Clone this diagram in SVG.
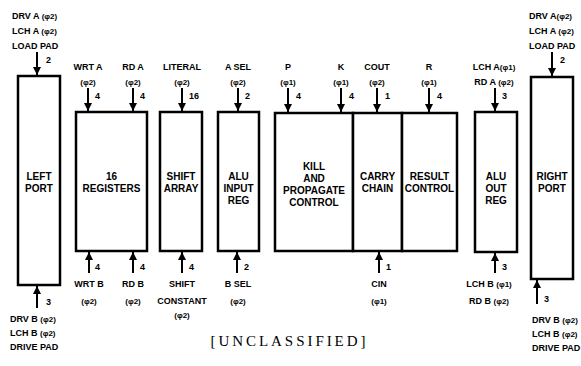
<svg xmlns="http://www.w3.org/2000/svg" width="581" height="366" viewBox="0 0 581 366">
<style>
text{font-family:"Liberation Sans",Arial,sans-serif;font-weight:bold;fill:#000}
.l{font-size:9px}
.p{font-size:8px}
.b{font-size:10px;text-anchor:middle}
.c{text-anchor:middle}
.box{fill:#fff;stroke:#000;stroke-width:2.5}
.w{stroke:#000;stroke-width:2;fill:none}
.u{font-family:"Liberation Serif","Times New Roman",serif;font-weight:normal;font-size:15px;text-anchor:middle}
</style>
<defs>
<marker id="ah" viewBox="0 0 10 10" refX="10" refY="5" markerWidth="4" markerHeight="4" orient="auto" markerUnits="strokeWidth">
<path d="M0,0 L10,5 L0,10 z" fill="#000"/>
</marker>
</defs>
<rect width="581" height="366" fill="#fff"/>

<g id="left-port">
<rect class="box" x="18" y="76" width="42" height="209"/>
<text class="b" x="39" y="180">LEFT</text>
<text class="b" x="39" y="192">PORT</text>
</g>
<g id="registers">
<rect class="box" x="76" y="112" width="71" height="139"/>
<text class="b" x="111.5" y="180">16</text>
<text class="b" x="111.5" y="192">REGISTERS</text>
</g>
<g id="shift-array">
<rect class="box" x="160" y="112" width="42" height="139"/>
<text class="b" x="181" y="180">SHIFT</text>
<text class="b" x="181" y="192">ARRAY</text>
</g>
<g id="alu-input-reg">
<rect class="box" x="218" y="112" width="41" height="139"/>
<text class="b" x="238.5" y="180">ALU</text>
<text class="b" x="238.5" y="192">INPUT</text>
<text class="b" x="238.5" y="204">REG</text>
</g>
<g id="kill-propagate">
<rect class="box" x="275" y="113" width="78" height="138"/>
<text class="b" x="314" y="170">KILL</text>
<text class="b" x="314" y="182">AND</text>
<text class="b" x="314" y="194">PROPAGATE</text>
<text class="b" x="314" y="206">CONTROL</text>
</g>
<g id="carry-chain">
<rect class="box" x="353" y="113" width="49" height="138"/>
<text class="b" x="377.5" y="180">CARRY</text>
<text class="b" x="377.5" y="192">CHAIN</text>
</g>
<g id="result-control">
<rect class="box" x="402" y="113" width="55" height="138"/>
<text class="b" x="429.5" y="180">RESULT</text>
<text class="b" x="429.5" y="192">CONTROL</text>
</g>
<g id="alu-out-reg">
<rect class="box" x="475" y="112" width="42" height="140"/>
<text class="b" x="496" y="180">ALU</text>
<text class="b" x="496" y="192">OUT</text>
<text class="b" x="496" y="204">REG</text>
</g>
<g id="right-port">
<rect class="box" x="531" y="77" width="42" height="202"/>
<text class="b" x="552" y="180">RIGHT</text>
<text class="b" x="552" y="192">PORT</text>
</g>

<g id="connectors">
<line class="w" x1="37" y1="52" x2="37" y2="75" marker-end="url(#ah)"/>
<line class="w" x1="88" y1="88" x2="88" y2="111" marker-end="url(#ah)"/>
<line class="w" x1="133" y1="88" x2="133" y2="111" marker-end="url(#ah)"/>
<line class="w" x1="182" y1="88" x2="182" y2="111" marker-end="url(#ah)"/>
<line class="w" x1="238" y1="88" x2="238" y2="111" marker-end="url(#ah)"/>
<line class="w" x1="288" y1="88" x2="288" y2="112" marker-end="url(#ah)"/>
<line class="w" x1="341" y1="88" x2="341" y2="112" marker-end="url(#ah)"/>
<line class="w" x1="377" y1="88" x2="377" y2="112" marker-end="url(#ah)"/>
<line class="w" x1="429" y1="88" x2="429" y2="112" marker-end="url(#ah)"/>
<line class="w" x1="495" y1="88" x2="495" y2="111" marker-end="url(#ah)"/>
<line class="w" x1="552" y1="52" x2="552" y2="76" marker-end="url(#ah)"/>

<line class="w" x1="37" y1="308" x2="37" y2="286" marker-end="url(#ah)"/>
<line class="w" x1="89" y1="273" x2="89" y2="252" marker-end="url(#ah)"/>
<line class="w" x1="133" y1="273" x2="133" y2="252" marker-end="url(#ah)"/>
<line class="w" x1="182" y1="273" x2="182" y2="252" marker-end="url(#ah)"/>
<line class="w" x1="237" y1="273" x2="237" y2="252" marker-end="url(#ah)"/>
<line class="w" x1="379" y1="273" x2="379" y2="252" marker-end="url(#ah)"/>
<line class="w" x1="495" y1="273" x2="495" y2="253" marker-end="url(#ah)"/>
<line class="w" x1="537" y1="304" x2="537" y2="280" marker-end="url(#ah)"/>
</g>

<g id="labels">
<text class="l" x="12" y="18.5">DRV A <tspan class="p">(φ2)</tspan></text>
<text class="l" x="12" y="34">LCH A <tspan class="p">(φ2)</tspan></text>
<text class="l" x="12" y="48.5">LOAD PAD</text>
<text class="l" x="46" y="63">2</text>

<text class="l c" x="88" y="69.5">WRT A</text>
<text class="p c" x="88" y="85">(φ2)</text>
<text class="l" x="95" y="99">4</text>
<text class="l c" x="133" y="69.5">RD A</text>
<text class="p c" x="133" y="85">(φ2)</text>
<text class="l" x="140" y="99">4</text>
<text class="l c" x="182" y="69.5">LITERAL</text>
<text class="p c" x="182" y="85">(φ2)</text>
<text class="l" x="189" y="99">16</text>
<text class="l c" x="238" y="69.5">A SEL</text>
<text class="p c" x="238" y="85">(φ2)</text>
<text class="l" x="245" y="99">2</text>
<text class="l c" x="288" y="69.5">P</text>
<text class="p c" x="288" y="85">(φ1)</text>
<text class="l" x="296" y="99">4</text>
<text class="l c" x="341" y="69.5">K</text>
<text class="p c" x="341" y="85">(φ1)</text>
<text class="l" x="349" y="99">4</text>
<text class="l c" x="377" y="69.5">COUT</text>
<text class="p c" x="377" y="85">(φ2)</text>
<text class="l" x="385" y="99">1</text>
<text class="l c" x="429" y="69.5">R</text>
<text class="p c" x="429" y="85">(φ1)</text>
<text class="l" x="437" y="99">4</text>
<text class="l c" x="494" y="69.5">LCH A<tspan class="p">(φ1)</tspan></text>
<text class="l c" x="494" y="85">RD A <tspan class="p">(φ2)</tspan></text>
<text class="l" x="502" y="99">3</text>

<text class="l" x="529" y="18.5">DRV A<tspan class="p">(φ2)</tspan></text>
<text class="l" x="529" y="34">LCH A <tspan class="p">(φ2)</tspan></text>
<text class="l" x="529" y="48.5">LOAD PAD</text>
<text class="l" x="560" y="63">2</text>

<text class="l" x="95" y="270">4</text>
<text class="l c" x="89" y="286.5">WRT B</text>
<text class="p c" x="89" y="303.5">(φ2)</text>
<text class="l" x="140" y="270">4</text>
<text class="l c" x="133" y="286.5">RD B</text>
<text class="p c" x="133" y="303.5">(φ2)</text>
<text class="l" x="189" y="270">4</text>
<text class="l c" x="182" y="286.5">SHIFT</text>
<text class="l c" x="182" y="303.5">CONSTANT</text>
<text class="p c" x="182" y="318">(φ2)</text>
<text class="l" x="244" y="270">2</text>
<text class="l c" x="238" y="286.5">B SEL</text>
<text class="p c" x="238" y="303.5">(φ2)</text>
<text class="l" x="386" y="270">1</text>
<text class="l c" x="379" y="286.5">CIN</text>
<text class="p c" x="379" y="303.5">(φ1)</text>
<text class="l" x="502" y="270">3</text>
<text class="l c" x="489" y="286.5">LCH B <tspan class="p">(φ1)</tspan></text>
<text class="l c" x="489" y="303.5">RD B <tspan class="p">(φ2)</tspan></text>

<text class="l" x="46" y="305">3</text>
<text class="l" x="10" y="322">DRV B <tspan class="p">(φ2)</tspan></text>
<text class="l" x="10" y="336">LCH B <tspan class="p">(φ2)</tspan></text>
<text class="l" x="10" y="350">DRIVE PAD</text>

<text class="l" x="544" y="302">3</text>
<text class="l" x="532" y="323">DRV B <tspan class="p">(φ2)</tspan></text>
<text class="l" x="532" y="337">LCH B <tspan class="p">(φ2)</tspan></text>
<text class="l" x="532" y="351">DRIVE PAD</text>

<text class="u" x="288" y="346" textLength="155" lengthAdjust="spacing">[UNCLASSIFIED]</text>
</g>
</svg>
